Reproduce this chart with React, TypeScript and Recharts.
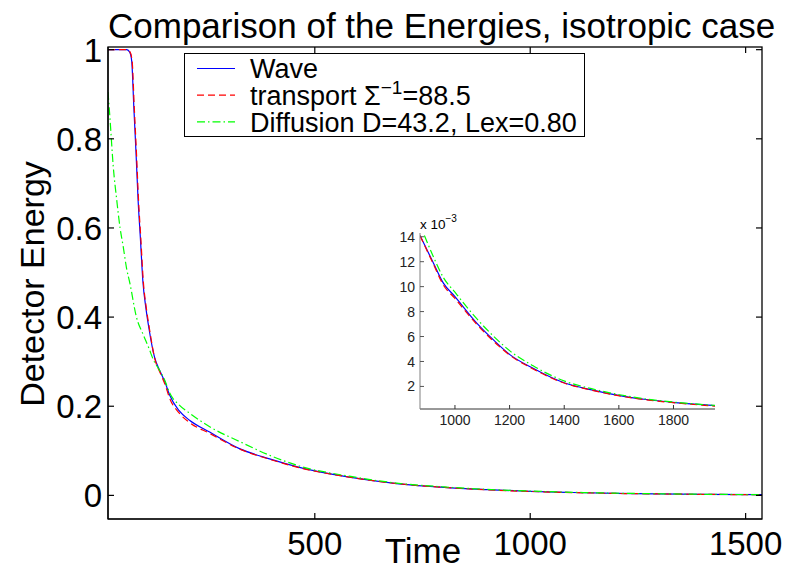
import React from 'react';
import { LineChart, Line, XAxis, YAxis, Legend } from 'recharts';

// ---------- main chart data ----------
const waveTime = [20, 40, 63, 70, 75, 80, 85, 90, 95, 101, 108, 115, 128, 140, 152, 163, 185, 210, 256, 325, 395, 464, 580, 695, 800, 900, 1000, 1100, 1200, 1300, 1400, 1538];
const waveEnergy = [1.0, 1.0, 1.0, 0.995, 0.975, 0.87, 0.77, 0.66, 0.58, 0.48, 0.42, 0.375, 0.31, 0.28, 0.255, 0.225, 0.19, 0.168, 0.142, 0.105, 0.082, 0.063, 0.041, 0.026, 0.018, 0.013, 0.009, 0.0065, 0.0045, 0.0033, 0.0024, 0.0016];

const transportTime = [20, 40, 63, 71, 76, 81, 86, 91, 96, 102, 109, 116, 129, 141, 152, 163, 185, 210, 256, 325, 395, 464, 580, 695, 800, 900, 1000, 1100, 1200, 1300, 1400, 1538];
const transportEnergy = [1.0, 1.0, 1.0, 0.995, 0.975, 0.87, 0.77, 0.66, 0.58, 0.48, 0.42, 0.375, 0.305, 0.275, 0.25, 0.218, 0.185, 0.163, 0.139, 0.104, 0.081, 0.062, 0.041, 0.026, 0.018, 0.0125, 0.0088, 0.0063, 0.0044, 0.0032, 0.0023, 0.0015];

const diffusionTime = [20, 25, 32, 40, 48, 55, 63, 71, 86, 102, 115, 125, 140, 152, 163, 185, 210, 256, 325, 395, 464, 580, 695, 800, 900, 1000, 1100, 1200, 1300, 1400, 1538];
const diffusionEnergy = [0.905, 0.84, 0.74, 0.665, 0.6, 0.56, 0.51, 0.475, 0.4, 0.36, 0.33, 0.305, 0.28, 0.258, 0.23, 0.203, 0.184, 0.154, 0.121, 0.09, 0.066, 0.043, 0.027, 0.019, 0.0135, 0.0096, 0.0069, 0.0049, 0.0036, 0.0025, 0.0017];

const xDomain = [20, 1538];
const yDomain = [-0.053, 1.006];
const xTicks = [500, 1000, 1500];
const yTicks = [0, 0.2, 0.4, 0.6, 0.8, 1];

// ---------- inset data (energy in units of 1e-3) ----------
const insetWaveTime = [872, 921, 957, 1000, 1079, 1140, 1201, 1286, 1402, 1500, 1603, 1700, 1798, 1952];
const insetWaveEnergy = [14.1, 11.9, 10.3, 9.2, 7.1, 5.75, 4.55, 3.45, 2.27, 1.72, 1.26, 0.95, 0.72, 0.46];
const insetTransportTime = [872, 921, 957, 1000, 1079, 1140, 1201, 1286, 1402, 1500, 1603, 1700, 1798, 1952];
const insetTransportEnergy = [14.1, 11.8, 10.15, 9.05, 7.0, 5.65, 4.5, 3.4, 2.25, 1.7, 1.24, 0.93, 0.7, 0.42];
const insetDiffusionTime = [888, 921, 957, 1000, 1079, 1140, 1201, 1286, 1402, 1500, 1603, 1700, 1798, 1952];
const insetDiffusionEnergy = [14.1, 12.4, 10.75, 9.55, 7.45, 6.05, 4.85, 3.65, 2.42, 1.82, 1.33, 0.99, 0.75, 0.48];
const insetXDomain = [872, 1952];
const insetYDomain = [0.19, 14.3];
const insetXTicks = [1000, 1200, 1400, 1600, 1800];
const insetYTicks = [2, 4, 6, 8, 10, 12, 14];

const seriesNames = ['Wave', 'transport \u03A3^-1=88.5', 'Diffusion D=43.2, Lex=0.80'];
const seriesColors = ['#0000ff', '#ff0000', '#00ff00'];
const seriesDash = [undefined, '7 4', '8 3 1.5 3'];

const zip = (t: number[], v: number[]) => t.map((x, i) => ({ t: x, v: v[i] }));

const mainSeries = [zip(waveTime, waveEnergy), zip(transportTime, transportEnergy), zip(diffusionTime, diffusionEnergy)];
const insetSeries = [zip(insetWaveTime, insetWaveEnergy), zip(insetTransportTime, insetTransportEnergy), zip(insetDiffusionTime, insetDiffusionEnergy)];

// ---------- layout ----------
const W = 785;
const H = 569;
const M = { top: 47, right: 23, left: 8 };
const Y_AXIS_W = 100;
const X_AXIS_H = 50;
const PLOT_L = M.left + Y_AXIS_W;
const PLOT_T = M.top;
const PLOT_W = W - M.right - PLOT_L;
const PLOT_H = H - X_AXIS_H - PLOT_T;

const FONT = '"Liberation Sans", Arial, Helvetica, sans-serif';
const TICK = 6;

const fmtY = (v: number) => (v === 0 ? '0' : v === 1 ? '1' : String(v));

// bottom tick label + inward ticks on bottom and (mirrored) top edges
const BottomTick = (p: any) => (
  <g>
    <line x1={p.x} x2={p.x} y1={p.y} y2={p.y - TICK} stroke="#000" strokeWidth={1.2} />
    <line x1={p.x} x2={p.x} y1={p.y - PLOT_H} y2={p.y - PLOT_H + TICK} stroke="#000" strokeWidth={1.2} />
    <text x={p.x} y={p.y + 36} textAnchor="middle" fontSize={33} fontFamily={FONT} fill="#000">{p.payload.value}</text>
  </g>
);
// left tick label + inward ticks on left and (mirrored) right edges
const LeftTick = (p: any) => (
  <g>
    <line x1={p.x} x2={p.x + TICK} y1={p.y} y2={p.y} stroke="#000" strokeWidth={1.2} />
    <line x1={p.x + PLOT_W} x2={p.x + PLOT_W - TICK} y1={p.y} y2={p.y} stroke="#000" strokeWidth={1.2} />
    <text x={p.x - 6} y={p.y} dy="0.36em" textAnchor="end" fontSize={33} fontFamily={FONT} fill="#000">{fmtY(p.payload.value)}</text>
  </g>
);

const InsetBottomTick = (p: any) => (
  <g>
    <line x1={p.x} x2={p.x} y1={p.y} y2={p.y - 4} stroke="#333" />
    <text x={p.x} y={p.y + 16} textAnchor="middle" fontSize={14} fontFamily={FONT} fill="#222">{p.payload.value}</text>
  </g>
);
const InsetLeftTick = (p: any) => (
  <g>
    <line x1={p.x} x2={p.x + 4} y1={p.y} y2={p.y} stroke="#555" />
    <text x={p.x - 5} y={p.y} dy="0.36em" textAnchor="end" fontSize={14} fontFamily={FONT} fill="#222">{p.payload.value}</text>
  </g>
);

const renderName = (name: string) => {
  const idx = name.indexOf('^');
  if (idx < 0) return name;
  const before = name.slice(0, idx);
  const rest = name.slice(idx + 1);
  const sup = rest.slice(0, 2).replace('-', '\u2212');
  const after = rest.slice(2);
  return (
    <>
      {before}
      <tspan dy={-11} fontSize={19}>{sup}</tspan>
      <tspan dy={11}>{after}</tspan>
    </>
  );
};

const renderLegend = (props: any) => {
  const items = (props.payload || [])
    .filter((it: any) => seriesNames.indexOf(String(it.value)) >= 0)
    .slice()
    .sort((a: any, b: any) => seriesNames.indexOf(String(a.value)) - seriesNames.indexOf(String(b.value)));
  return (
    <svg width={401} height={84} style={{ display: 'block' }}>
      <rect x={0.5} y={0.5} width={400} height={83} fill="#fff" stroke="#000" />
      {items.map((it: any, i: number) => {
        const k = seriesNames.indexOf(String(it.value));
        const cy = 15.5 + i * 26.7;
        return (
          <g key={k}>
            <line x1={13} x2={51} y1={cy} y2={cy} stroke={seriesColors[k]} strokeWidth={1.2} strokeDasharray={seriesDash[k]} />
            <text x={66} y={cy} dy="0.36em" fontSize={27} fontFamily={FONT} fill="#000">{renderName(String(it.value))}</text>
          </g>
        );
      })}
    </svg>
  );
};

export default function App() {
  return (
    <div style={{ position: 'absolute', left: 0, top: 0, width: W, height: H, background: '#fff', overflow: 'hidden' }}>
      <div style={{ position: 'absolute', left: 0, top: 0 }}>
        <LineChart id="mainChart" width={W} height={H} margin={{ top: M.top, right: M.right, bottom: 0, left: M.left }}>
          <XAxis dataKey="t" type="number" domain={xDomain} allowDataOverflow ticks={xTicks}
            height={X_AXIS_H} tickSize={0} tickMargin={0} tickLine={false} axisLine={{ stroke: '#000', strokeWidth: 1.2 }} tick={<BottomTick />} />
          <YAxis dataKey="v" type="number" domain={yDomain} allowDataOverflow ticks={yTicks}
            width={Y_AXIS_W} tickSize={0} tickMargin={0} tickLine={false} axisLine={{ stroke: '#000', strokeWidth: 1.2 }} tick={<LeftTick />} />
          {mainSeries.map((d, i) => (
            <Line key={i} data={d} dataKey="v" name={seriesNames[i]} type="monotone"
              stroke={seriesColors[i]} strokeWidth={1.2} strokeDasharray={seriesDash[i]} dot={false} activeDot={false} isAnimationActive={false} />
          ))}
          <Legend layout="horizontal" verticalAlign="middle" align="center" content={renderLegend}
            wrapperStyle={{ left: 184, top: 53, width: 401, height: 84 }} />
        </LineChart>
      </div>

      <div style={{ position: 'absolute', left: 370, top: 213 }}>
        <LineChart id="insetChart" width={355} height={230} margin={{ top: 20, right: 10, bottom: 0, left: 0 }}>
          <XAxis dataKey="t" type="number" domain={insetXDomain} allowDataOverflow ticks={insetXTicks}
            height={34} tickSize={0} tickMargin={0} tickLine={false} axisLine={{ stroke: '#333' }} tick={<InsetBottomTick />} />
          <YAxis dataKey="v" type="number" domain={insetYDomain} allowDataOverflow ticks={insetYTicks}
            width={50} tickSize={0} tickMargin={0} tickLine={false} axisLine={{ stroke: '#808080' }} tick={<InsetLeftTick />} />
          {insetSeries.map((d, i) => (
            <Line key={i} data={d} dataKey="v" name={seriesNames[i]} type="monotone"
              stroke={seriesColors[i]} strokeWidth={1.2} strokeDasharray={seriesDash[i]} dot={false} activeDot={false} isAnimationActive={false} />
          ))}
        </LineChart>
      </div>

      <svg width={W} height={H} style={{ position: 'absolute', left: 0, top: 0, pointerEvents: 'none' }}>
        {/* axes box around the main plot area */}
        <rect x={PLOT_L} y={PLOT_T} width={PLOT_W} height={PLOT_H} fill="none" stroke="#000" strokeWidth={1.3} />
        <text x={108} y={38} fontSize={35} fontFamily={FONT} fill="#000">Comparison of the Energies, isotropic case</text>
        <text x={423} y={563} textAnchor="middle" fontSize={35} fontFamily={FONT} fill="#000">Time</text>
        <text transform="translate(44,284) rotate(-90)" textAnchor="middle" fontSize={34} fontFamily={FONT} fill="#000">Detector Energy</text>
        <text x={420} y={229} fontSize={13.5} fontFamily={FONT} fill="#000">x 10<tspan dy={-7} fontSize={10}>{'\u22123'}</tspan></text>
      </svg>
    </div>
  );
}
